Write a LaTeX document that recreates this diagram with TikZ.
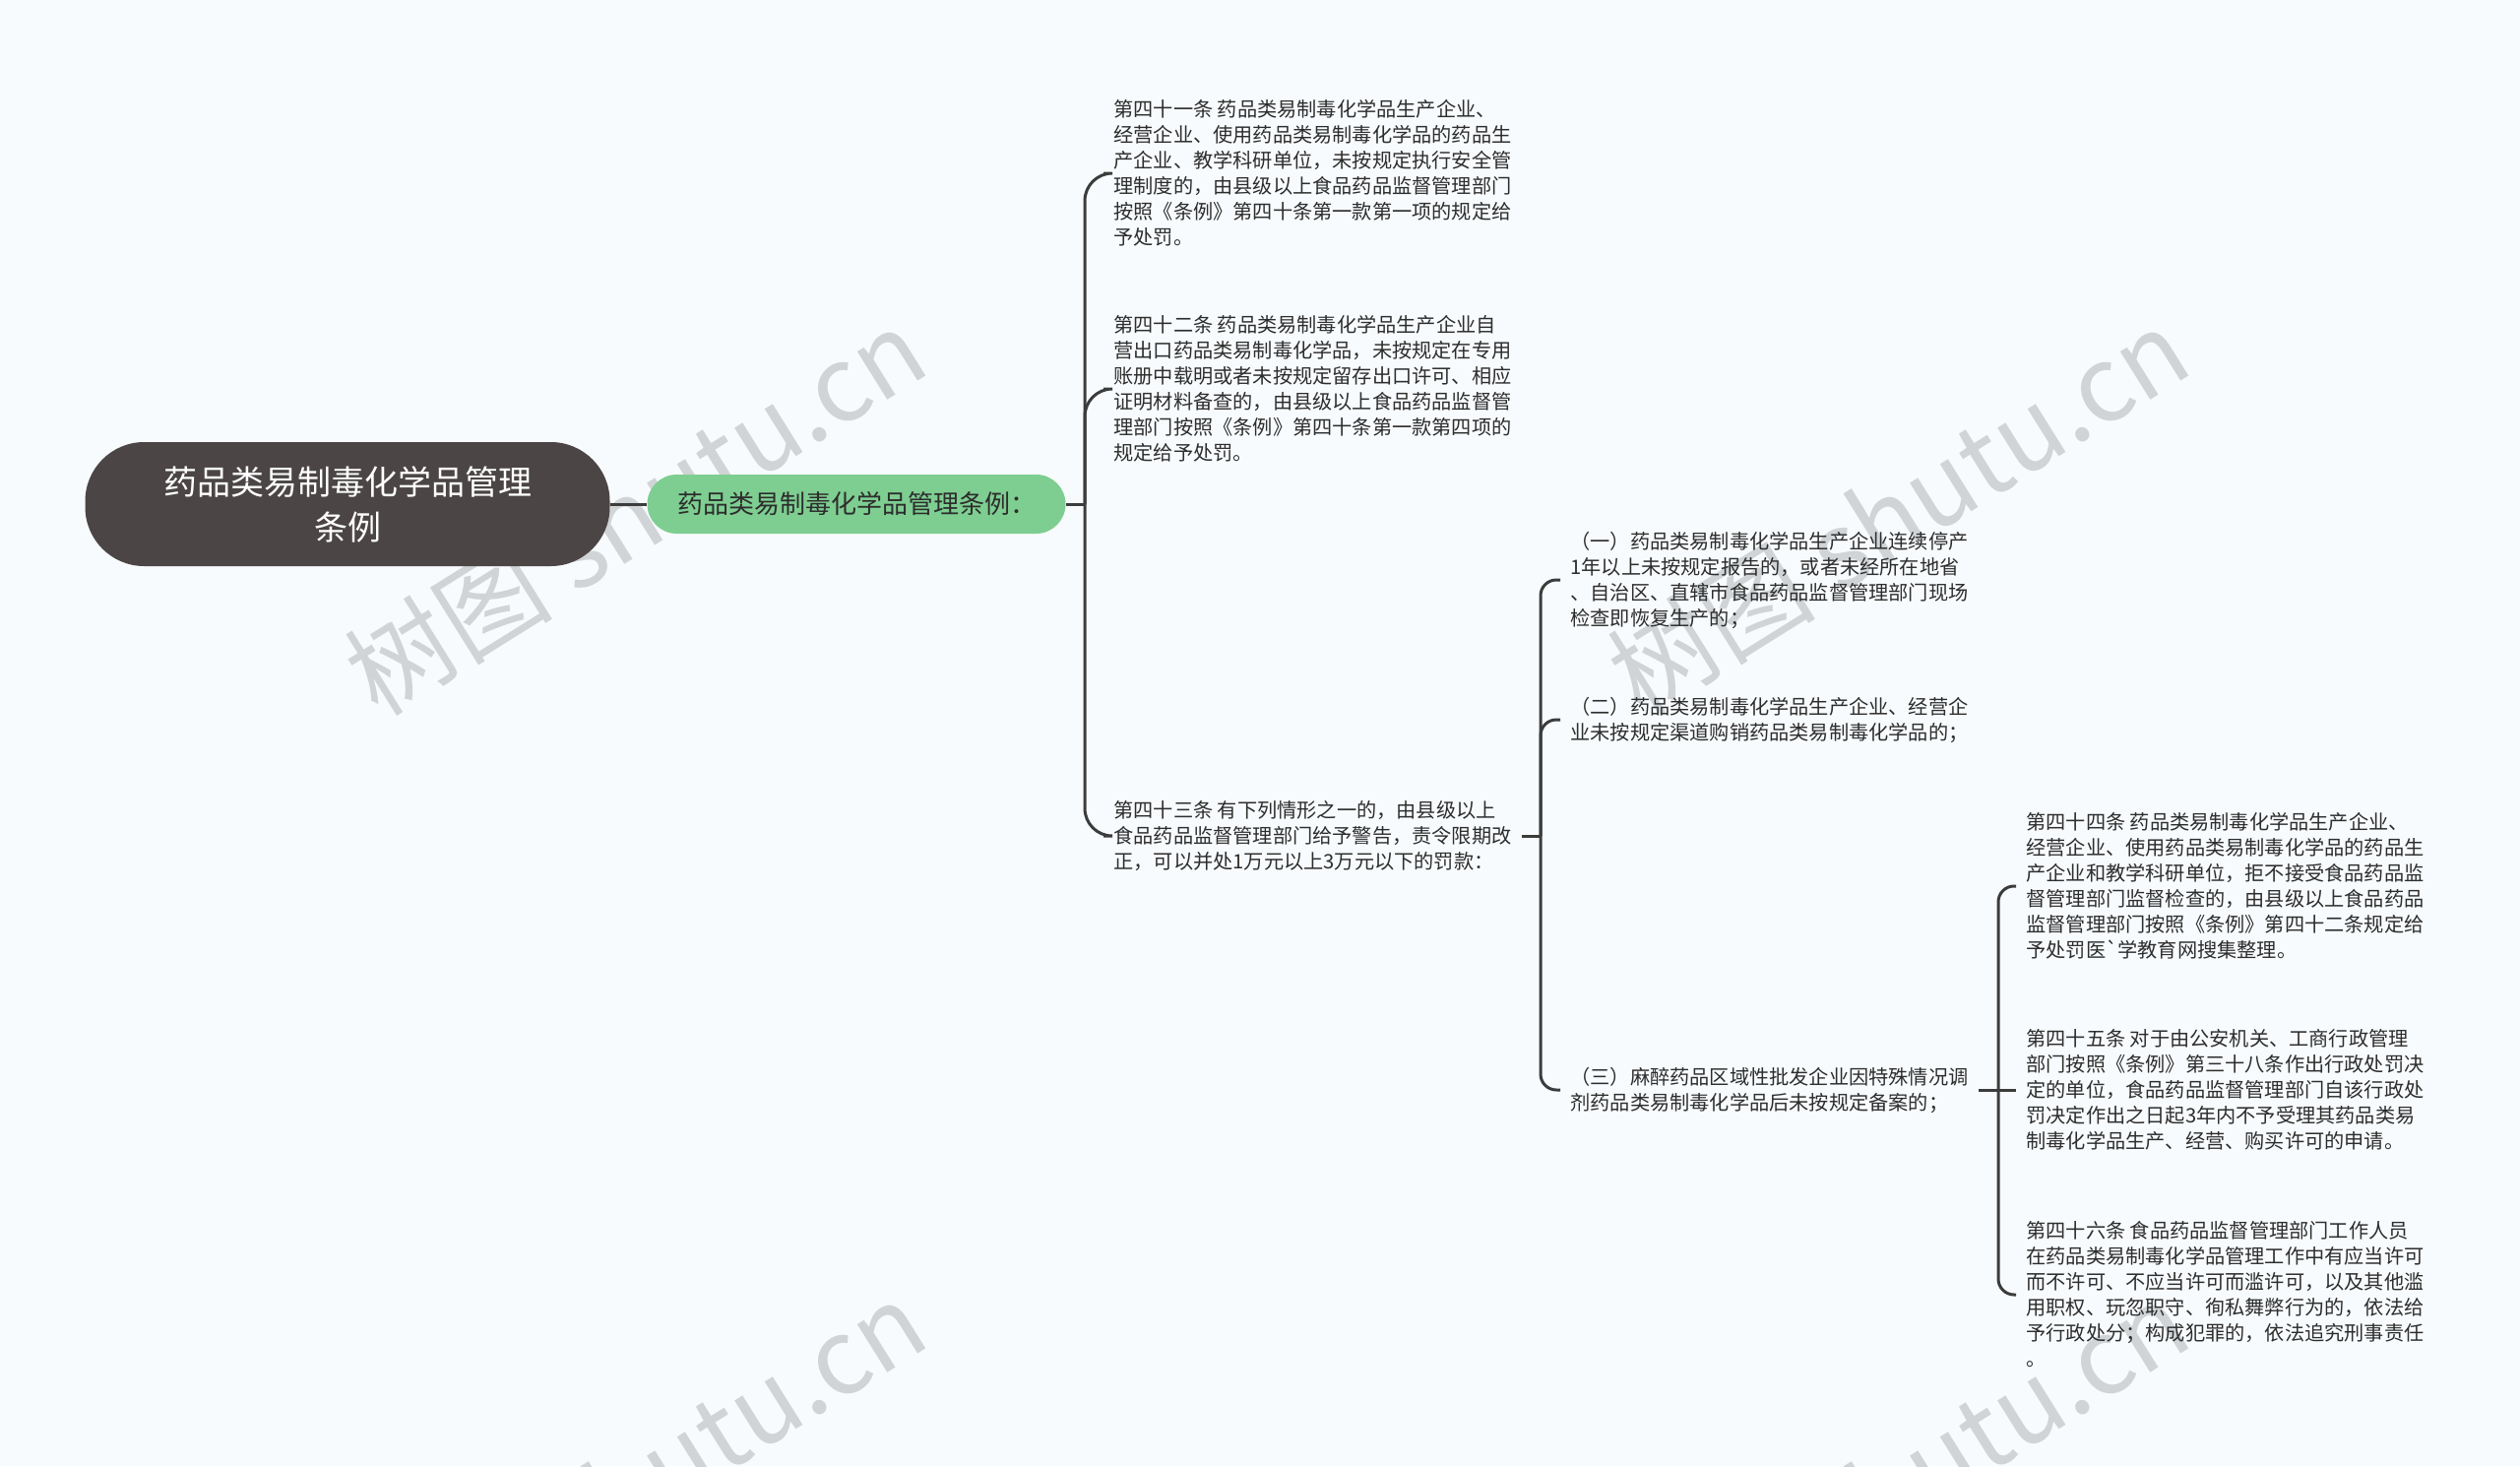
\documentclass[tikz,border=0pt]{standalone}
\usepackage{fontspec}
\setmainfont{Noto Sans CJK SC}
\definecolor{bg}{RGB}{248,251,253}
\definecolor{rootc}{RGB}{75,70,69}
\definecolor{greenc}{RGB}{126,206,145}
\definecolor{linec}{RGB}{60,60,60}
\definecolor{txt}{RGB}{45,45,45}
\definecolor{wm}{RGB}{208,212,215}
\begin{document}
\begin{tikzpicture}[x=0.5pt,y=-0.5pt,
  leaf/.style={anchor=west,align=left,inner xsep=5pt,inner ysep=2pt,text=txt,font=\fontsize{10.1pt}{13pt}\selectfont},
  rootnode/.style={fill=rootc,rounded corners=30pt,minimum width=266.5pt,minimum height=63pt,text=white,align=center,font=\fontsize{17pt}{23pt}\selectfont},
  greennode/.style={fill=greenc,rounded corners=15pt,minimum width=212.5pt,minimum height=30pt,text=txt,font=\fontsize{13pt}{16pt}\selectfont},
  conn/.style={draw=linec,line width=1.5pt},
  wmark/.style={rotate=32,text=wm,font=\fontsize{53pt}{53pt}\selectfont},
]
\fill[bg] (0,0) rectangle (2560,1489);
\useasboundingbox (0,0) rectangle (2560,1489);
\begin{scope}
\clip (0,0) rectangle (2560,1489);
\node[wmark] (w1) at (645,519) {树图 shutu.cn};
\node[wmark] (w2) at (1928,519) {树图 shutu.cn};
\node[wmark] (w3) at (645,1507) {树图 shutu.cn};
\node[wmark] (w4) at (1928,1507) {树图 shutu.cn};
\end{scope}

\node[rootnode] (root) at (353,512) {药品类易制毒化学品管理\\条例};
\node[greennode] (green) at (870,512) {药品类易制毒化学品管理条例：};

\node[leaf] (t41) at (1121,176) {第四十一条 药品类易制毒化学品生产企业、\\经营企业、使用药品类易制毒化学品的药品生\\产企业、教学科研单位，未按规定执行安全管\\理制度的，由县级以上食品药品监督管理部门\\按照《条例》第四十条第一款第一项的规定给\\予处罚。};
\node[leaf] (t42) at (1121,395) {第四十二条 药品类易制毒化学品生产企业自\\营出口药品类易制毒化学品，未按规定在专用\\账册中载明或者未按规定留存出口许可、相应\\证明材料备查的，由县级以上食品药品监督管\\理部门按照《条例》第四十条第一款第四项的\\规定给予处罚。};
\node[leaf] (t43) at (1121,849) {第四十三条 有下列情形之一的，由县级以上\\食品药品监督管理部门给予警告，责令限期改\\正，可以并处1万元以上3万元以下的罚款：};

\node[leaf] (c1) at (1585,589) {（一）药品类易制毒化学品生产企业连续停产\\1年以上未按规定报告的，或者未经所在地省\\、自治区、直辖市食品药品监督管理部门现场\\检查即恢复生产的；};
\node[leaf] (c2) at (1585,731) {（二）药品类易制毒化学品生产企业、经营企\\业未按规定渠道购销药品类易制毒化学品的；};
\node[leaf] (c3) at (1585,1107) {（三）麻醉药品区域性批发企业因特殊情况调\\剂药品类易制毒化学品后未按规定备案的；};

\node[leaf] (t44) at (2048,900) {第四十四条 药品类易制毒化学品生产企业、\\经营企业、使用药品类易制毒化学品的药品生\\产企业和教学科研单位，拒不接受食品药品监\\督管理部门监督检查的，由县级以上食品药品\\监督管理部门按照《条例》第四十二条规定给\\予处罚医\textasciigrave 学教育网搜集整理。};
\node[leaf] (t45) at (2048,1107) {第四十五条 对于由公安机关、工商行政管理\\部门按照《条例》第三十八条作出行政处罚决\\定的单位，食品药品监督管理部门自该行政处\\罚决定作出之日起3年内不予受理其药品类易\\制毒化学品生产、经营、购买许可的申请。};
\node[leaf] (t46) at (2048,1315) {第四十六条 食品药品监督管理部门工作人员\\在药品类易制毒化学品管理工作中有应当许可\\而不许可、不应当许可而滥许可，以及其他滥\\用职权、玩忽职守、徇私舞弊行为的，依法给\\予行政处分；构成犯罪的，依法追究刑事责任\\。};

\coordinate (j1) at (1102,512);
\coordinate (j2) at (1565,849);
\coordinate (j3) at (2030,1107);

\draw[conn] (root.east) -- (green.west);
\draw[conn] (green.east) -- (j1);
\draw[conn,rounded corners=14pt] (j1) |- (t41.west);
\draw[conn,rounded corners=14pt] (j1) |- (t42.west);
\draw[conn,rounded corners=14pt] (j1) |- (t43.west);

\draw[conn] (t43.east) -- (j2);
\draw[conn,rounded corners=8pt] (j2) |- (c1.west);
\draw[conn,rounded corners=8pt] (j2) |- (c2.west);
\draw[conn,rounded corners=8pt] (j2) |- (c3.west);

\draw[conn] (c3.east) -- (j3);
\draw[conn,rounded corners=8pt] (j3) |- (t44.west);
\draw[conn] (j3) -- (t45.west);
\draw[conn,rounded corners=8pt] (j3) |- (t46.west);
\end{tikzpicture}
\end{document}
